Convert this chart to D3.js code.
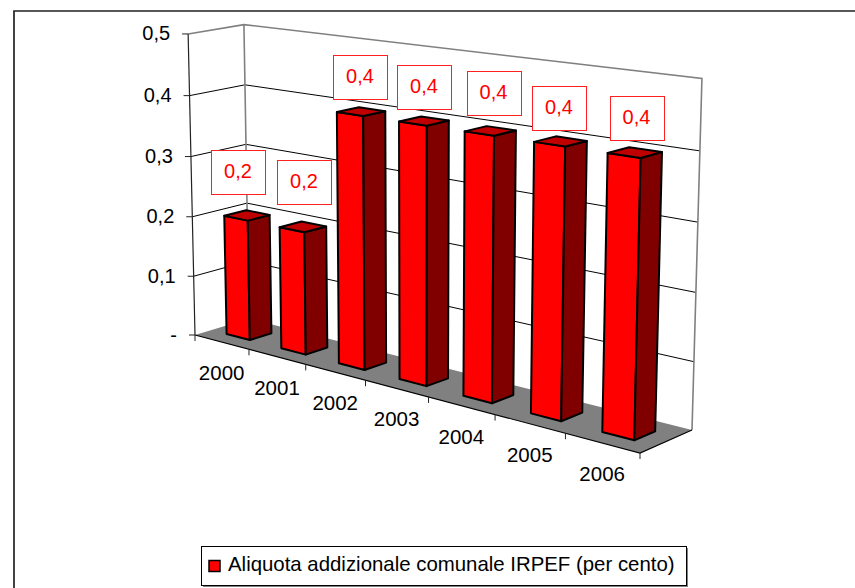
<!DOCTYPE html>
<html>
<head>
<meta charset="utf-8">
<script src="https://cdn.jsdelivr.net/npm/d3@7"></script>
<style>
    html, body { margin: 0; padding: 0; background: #fff; }
    text { font-family: "Liberation Sans", Arial, sans-serif; }
</style>
</head>
<body>
<svg id="chart" width="855" height="588"></svg>
<script>
// Chart data
const years = ['2000', '2001', '2002', '2003', '2004', '2005', '2006'];
const rates = [0.2, 0.2, 0.4, 0.4, 0.4, 0.4, 0.4];
const rateLabels = ['0,2', '0,2', '0,4', '0,4', '0,4', '0,4', '0,4'];
const yTicks = [0, 0.1, 0.2, 0.3, 0.4, 0.5];
const yTickLabels = ['-', '0,1', '0,2', '0,3', '0,4', '0,5'];
const legendLabel = 'Aliquota addizionale comunale IRPEF (per cento)';

const svg = d3.select('#chart');

// Gaussian elimination, used to fit the perspective below
function solve(A, b) {
    const m = A.map((row, i) => [...row, b[i]]);
    const n = m.length;
    for (let i = 0; i < n; i++) {
        let p = i;
        for (let r = i + 1; r < n; r++) if (Math.abs(m[r][i]) > Math.abs(m[p][i])) p = r;
        [m[i], m[p]] = [m[p], m[i]];
        for (let r = 0; r < n; r++) {
            if (r === i) continue;
            const f = m[r][i] / m[i][i];
            for (let c = i; c < n + 1; c++) m[r][c] -= f * m[i][c];
        }
    }
    return m.map((row, i) => row[n] / row[i]);
}

// Where the plot box corners land on the page: [x, depth] -> [px, py]
const floorCorners = [
    [[0, 0], [195, 335]], [[1, 0], [640, 453]],
    [[1, 1], [692, 430]], [[0, 1], [249, 318.7]]
];
const topCorners = [
    [[0, 0], [188, 33]], [[0, 1], [244, 26]], [[1, 1], [702, 78]]
];

// Floor homography
const floorA = [], floorB = [];
floorCorners.forEach(([[u, v], [x, y]]) => {
    floorA.push([u, v, 1, 0, 0, 0, -u * x, -v * x]); floorB.push(x);
    floorA.push([0, 0, 0, u, v, 1, -u * y, -v * y]); floorB.push(y);
});
const h = solve(floorA, floorB);
const floorAt = (u, v) => [h[0] * u + h[1] * v + h[2], h[3] * u + h[4] * v + h[5], h[6] * u + h[7] * v + 1];

// Vertical column of the projection, least squares on the top corners
const eqs = [], rhs = [];
topCorners.forEach(([[u, v], [x, y]]) => {
    const f = floorAt(u, v);
    eqs.push([1, 0, -x]); rhs.push(x * f[2] - f[0]);
    eqs.push([0, 1, -y]); rhs.push(y * f[2] - f[1]);
});
const ata = [0, 1, 2].map(i => [0, 1, 2].map(j => d3.sum(eqs, e => e[i] * e[j])));
const atb = [0, 1, 2].map(i => d3.sum(eqs, (e, k) => e[i] * rhs[k]));
const up = solve(ata, atb);

// Scales: category band, value and depth all run 0..1 inside the box
const xBand = d3.scaleBand().domain(years).range([0, 1]).paddingInner(0.57).paddingOuter(0.285);
const xEdge = d3.scaleLinear().domain([0, years.length]).range([0, 1]);
const yScale = d3.scaleLinear().domain([0, 0.5]).range([0, 1]);
const zScale = d3.scaleLinear().domain([0, 1]).range([0.3, 0.7]);

function project(u, val, v) {
    const f = floorAt(u, v);
    const t = yScale(val);
    const w = f[2] + t * up[2];
    return [(f[0] + t * up[0]) / w, (f[1] + t * up[1]) / w];
}
const poly = pts => 'M' + pts.map(p => p.join(',')).join('L') + 'Z';
const seg = (a, b) => 'M' + a.join(',') + 'L' + b.join(',');

// Chart frame, only the top and left edges are in the picture
svg.append('path')
    .attr('d', 'M14,588V11H855')
    .attr('fill', 'none').attr('stroke', '#222').attr('stroke-width', 1.7);

// Floor
svg.append('path')
    .attr('d', poly([project(0, 0, 0), project(1, 0, 0), project(1, 0, 1), project(0, 0, 1)]))
    .attr('fill', '#808080');

// Gridlines on both walls
yTicks.slice(1, -1).forEach(t => {
    svg.append('path')
        .attr('d', 'M' + [project(0, t, 0), project(0, t, 1), project(1, t, 1)].map(p => p.join(',')).join('L'))
        .attr('fill', 'none').attr('stroke', '#000').attr('stroke-width', 1);
});

// Wall outline
svg.append('path')
    .attr('d', seg(project(0, 0.5, 0), project(0, 0.5, 1)) + 'L' + project(1, 0.5, 1).join(',') + 'L' + project(1, 0, 1).join(',')
        + seg(project(0, 0.5, 1), project(0, 0, 1)))
    .attr('fill', 'none').attr('stroke', '#808080').attr('stroke-width', 1.6);

// Value axis
svg.append('path')
    .attr('d', seg(project(0, 0.5, 0), project(0, 0, 0)))
    .attr('stroke', '#222').attr('stroke-width', 1.2);
yTicks.forEach((t, i) => {
    const [px, py] = project(0, t, 0);
    svg.append('line')
        .attr('x1', px - 6).attr('y1', py).attr('x2', px).attr('y2', py)
        .attr('stroke', '#222').attr('stroke-width', 1);
    svg.append('text')
        .attr('x', px - 18).attr('y', py + 6.5)
        .attr('text-anchor', 'end').attr('font-size', 20).attr('fill', '#000')
        .text(yTickLabels[i]);
});

// Category axis
svg.append('path')
    .attr('d', seg(project(0, 0, 0), project(1, 0, 0)) + 'L' + project(1, 0, 1).join(','))
    .attr('fill', 'none').attr('stroke', '#000').attr('stroke-width', 1.2);
d3.range(years.length + 1).forEach(i => {
    const [px, py] = project(xEdge(i), 0, 0);
    svg.append('line')
        .attr('x1', px).attr('y1', py).attr('x2', px).attr('y2', py + 6)
        .attr('stroke', '#222').attr('stroke-width', 1);
});
years.forEach((year, i) => {
    const [px, py] = project(xEdge(i + 0.5), 0, 0);
    svg.append('text')
        .attr('x', px).attr('y', py + 38)
        .attr('text-anchor', 'middle').attr('font-size', 20.5).attr('fill', '#000')
        .text(year);
});

// Bars
years.forEach((year, i) => {
    const x0 = xBand(year), x1 = x0 + xBand.bandwidth();
    const z0 = zScale(0), z1 = zScale(1), val = rates[i];
    const faces = [
        { fill: '#ff0000', pts: [[x0, 0, z0], [x1, 0, z0], [x1, val, z0], [x0, val, z0]] },
        { fill: '#800000', pts: [[x1, 0, z0], [x1, 0, z1], [x1, val, z1], [x1, val, z0]] },
        { fill: '#c00000', pts: [[x0, val, z0], [x1, val, z0], [x1, val, z1], [x0, val, z1]] }
    ];
    faces.forEach(face => {
        svg.append('path')
            .attr('d', poly(face.pts.map(p => project(...p))))
            .attr('fill', face.fill)
            .attr('stroke', '#000')
            .attr('stroke-width', 2)
            .attr('stroke-linejoin', 'round');
    });
});

// Data labels, drawn after the bars. Boxes sit at fixed spots above each bar
const labelCentres = [[238, 172], [304, 181.5], [360, 77], [424, 87], [493.5, 93], [559, 108], [636.5, 118]];
years.forEach((year, i) => {
    const [bx, by] = labelCentres[i];
    svg.append('rect')
        .attr('x', Math.round(bx - 27) + 0.5).attr('y', Math.round(by - 22) + 0.5)
        .attr('width', 54).attr('height', 44)
        .attr('fill', '#fff').attr('stroke', '#ff2020').attr('stroke-width', 1);
    svg.append('text')
        .attr('x', bx).attr('y', by + 6)
        .attr('text-anchor', 'middle').attr('font-size', 20).attr('fill', '#ff0000')
        .text(rateLabels[i]);
});

// Legend
svg.append('rect')
    .attr('x', 203).attr('y', 548).attr('width', 485).attr('height', 39).attr('fill', '#808080');
svg.append('rect')
    .attr('x', 201.5).attr('y', 546.5).attr('width', 485).attr('height', 39)
    .attr('fill', '#fff').attr('stroke', '#000').attr('stroke-width', 1);
svg.append('rect')
    .attr('x', 209).attr('y', 560.5).attr('width', 11).attr('height', 11)
    .attr('fill', '#ff0000').attr('stroke', '#000').attr('stroke-width', 1.5);
svg.append('text')
    .attr('x', 228).attr('y', 571)
    .attr('font-size', 20.4).attr('fill', '#000')
    .text(legendLabel);
</script>
</body>
</html>
